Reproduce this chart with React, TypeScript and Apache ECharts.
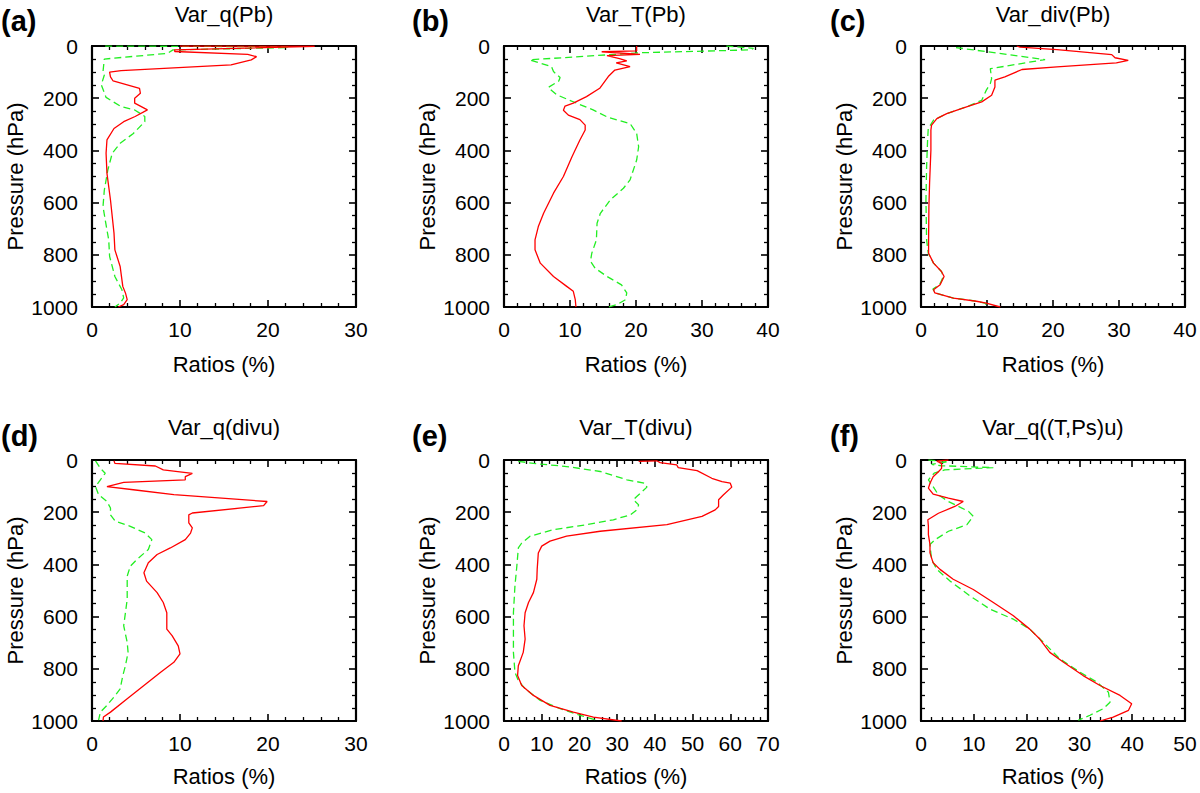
import React, { useEffect, useRef } from "react";
import * as echarts from "echarts";

// Each series: [pressure (hPa), ratio (%)]
const aRed = [[0,10],[1,25.3],[15,9.4],[21,9.4],[32,17.7],[41,18.7],[53,18.1],[72,15.8],[94,3.3],[100,2.0],[118,2.1],[134,2.4],[162,5.4],[181,5.5],[200,4.85],[219,4.85],[245,6.3],[270,4.9],[290,3.6],[316,2.5],[360,1.7],[411,1.6],[488,1.7],[590,2.1],[717,2.5],[781,2.6],[845,3.2],[921,3.5],[946,3.8],[972,4.0],[991,3.6],[1000,3.0]];
const aGreen = [[0,1.5],[3,22.3],[6,22.3],[15,9.2],[28,8.6],[50,1.4],[98,1.25],[111,1.4],[149,1.06],[197,1.6],[232,3.3],[245,4.85],[270,6.0],[290,6.0],[335,4.7],[373,3.2],[411,2.3],[475,1.8],[552,1.4],[615,1.25],[666,1.5],[743,1.9],[806,2.0],[883,2.6],[934,3.4],[965,3.6],[985,3.2],[1000,2.6]];

const bRed = [[0,20.1],[19,20.1],[22,14.8],[32,20.6],[37,15.6],[48,17.5],[57,18.6],[65,17.0],[79,19.1],[92,16.8],[117,15.8],[162,14.5],[194,12.5],[219,10.5],[230,9.25],[246,9.0],[265,9.75],[282,11.5],[303,12.3],[322,12.3],[360,11.5],[424,10.3],[500,9.0],[564,7.5],[641,6.0],[692,5.2],[743,4.7],[781,4.7],[832,5.5],[883,7.5],[921,9.5],[940,10.5],[972,10.8],[1000,10.9]];
const bGreen = [[0,33.7],[9,37.8],[15,37.3],[26,20.5],[53,3.9],[79,7.2],[98,7.5],[121,8.5],[134,8.3],[159,6.7],[187,8.0],[219,11.0],[245,13.5],[274,15.8],[297,19.1],[335,20.1],[386,20.4],[437,20.1],[513,19.1],[545,18.1],[590,16.1],[641,14.6],[679,14.1],[743,14.0],[794,13.3],[825,13.1],[851,13.8],[883,15.6],[915,17.8],[946,18.6],[972,18.4],[991,17.1],[1000,15.8]];

const cRed = [[0,14.5],[4,15.0],[14,20.6],[33,28.9],[45,29.4],[55,31.4],[65,29.6],[80,20.6],[90,15.3],[118,12.7],[131,11.2],[157,11.2],[189,10.7],[214,9.2],[233,6.9],[259,3.9],[278,2.4],[303,1.6],[322,1.5],[399,1.5],[526,1.3],[615,1.2],[743,1.15],[794,1.15],[832,1.9],[864,3.1],[883,3.5],[915,2.9],[934,1.9],[946,2.1],[966,4.9],[978,8.4],[985,9.9],[1000,12.0]];
const cGreen = [[6,5.3],[52,18.8],[87,10.5],[125,10.7],[144,10.5],[169,9.9],[208,9.2],[233,6.9],[259,3.9],[284,1.9],[316,1.1],[360,1.0],[462,0.85],[590,0.75],[743,0.85],[794,1.1],[832,1.9],[864,3.1],[883,3.4],[915,2.8],[931,1.8],[946,2.1],[966,4.9],[976,7.9],[985,9.7],[1000,10.2]];

const dRed = [[3,2.5],[13,2.6],[23,7.2],[38,8.1],[51,11.4],[64,10.6],[76,10.6],[86,3.6],[102,1.7],[114,4.7],[133,9.3],[159,19.9],[175,19.5],[203,11.4],[210,11.0],[241,11.0],[260,11.4],[280,11.2],[305,10.6],[337,8.9],[362,7.4],[394,6.4],[432,5.9],[464,6.2],[508,7.4],[546,8.1],[585,8.5],[648,8.5],[673,9.1],[712,9.8],[743,10.0],[775,9.3],[813,7.8],[864,5.9],[915,4.0],[966,2.1],[985,1.3],[1000,1.25]];
const dGreen = [[3,0.4],[32,0.95],[51,1.5],[76,0.95],[102,0.4],[133,0.75],[159,1.7],[184,2.1],[210,2.1],[235,2.65],[254,4.35],[280,6.05],[305,6.8],[343,6.4],[381,5.1],[407,4.35],[445,4.0],[534,4.0],[585,3.8],[635,3.6],[699,4.0],[737,4.1],[788,3.8],[826,3.5],[877,3.2],[902,2.65],[940,1.7],[966,0.95],[997,0.75]];

const eRed = [[5,35.7],[3,40.5],[10,41.4],[19,45.8],[29,46.2],[41,51.2],[70,55.1],[83,57.8],[89,60.0],[104,60.4],[133,58.2],[152,56.9],[178,56.9],[191,56.0],[216,52.5],[248,43.2],[273,25.5],[292,16.6],[311,12.2],[330,10.0],[356,9.1],[419,8.8],[457,8.7],[508,7.8],[546,6.5],[585,5.6],[635,5.3],[686,5.6],[737,5.1],[788,3.8],[826,3.6],[864,4.7],[902,7.8],[940,12.2],[966,18.4],[985,23.7],[1000,31.2]];
const eGreen = [[5,3.8],[13,7.8],[25,16.6],[44,25.5],[76,32.6],[89,37.4],[104,37.9],[140,35.2],[152,34.3],[172,35.7],[191,35.2],[210,33.5],[229,29.0],[248,21.9],[267,13.1],[292,6.9],[318,4.7],[337,3.8],[407,3.4],[483,2.9],[585,2.5],[737,2.5],[813,2.9],[845,3.8],[877,5.6],[921,9.6],[953,14.9],[978,20.2],[997,24.6]];

const fRed = [[0,5.2],[4,3.0],[13,3.9],[32,3.9],[45,3.3],[64,2.3],[89,1.7],[108,1.4],[131,2.3],[146,5.2],[159,8.0],[178,6.4],[204,3.3],[229,1.3],[254,1.4],[286,1.4],[324,1.7],[356,1.7],[394,2.3],[419,3.6],[457,6.1],[496,9.9],[546,13.7],[597,17.5],[648,20.6],[686,22.5],[737,24.4],[775,27.0],[826,30.7],[864,33.9],[902,37.7],[934,39.9],[959,39.3],[985,36.4],[1000,33.9]];
const fGreen = [[0,1.4],[6,5.2],[17,2.0],[22,3.9],[29,13.7],[38,4.5],[50,2.5],[76,1.4],[102,2.3],[134,3.3],[159,5.2],[197,9.0],[216,9.9],[248,8.7],[273,5.2],[305,2.7],[324,1.7],[343,1.8],[381,2.0],[419,3.0],[464,5.5],[521,9.3],[572,13.1],[610,17.5],[648,20.6],[699,23.2],[762,26.3],[813,30.1],[851,33.3],[890,35.5],[928,35.8],[953,34.5],[978,32.0],[997,29.8]];

const panelTitles = ["Var_q(Pb)", "Var_T(Pb)", "Var_div(Pb)", "Var_q(divu)", "Var_T(divu)", "Var_q((T,Ps)u)"];
const panelLetters = ["(a)", "(b)", "(c)", "(d)", "(e)", "(f)"];
const xMaxes = [30, 40, 40, 30, 70, 50];
const reds = [aRed, bRed, cRed, dRed, eRed, fRed];
const greens = [aGreen, bGreen, cGreen, dGreen, eGreen, fGreen];
const pressureTicks = [0, 200, 400, 600, 800, 1000];
const xAxisName = "Ratios (%)";
const yAxisName = "Pressure (hPa)";

const FONT = '"Liberation Sans", Arial, Helvetica, sans-serif';

const lefts = [92, 504, 921];
const tops = [46, 460];
const W = 264;
const H = 261;

export default function App() {
  const ref = useRef<HTMLDivElement>(null);

  useEffect(() => {
    document.body.style.margin = "0";
    const chart = echarts.init(ref.current!, null, { renderer: "svg" });

    const grid: any[] = [];
    const xAxis: any[] = [];
    const yAxis: any[] = [];
    const series: any[] = [];
    const graphic: any[] = [];

    for (let i = 0; i < 6; i++) {
      const col = i % 3;
      const row = Math.floor(i / 3);
      const left = lefts[col];
      const top = tops[row];
      grid.push({ left, top, width: W, height: H, containLabel: false });

      const axisLine = { show: true, onZero: false, lineStyle: { color: "#000", width: 2.2 } };
      const tick = { show: true, inside: true, length: 7, lineStyle: { color: "#000", width: 1.6 } };
      const label = { show: true, color: "#000", fontSize: 21, fontFamily: FONT };
      const nameStyle = { color: "#000", fontSize: 22, fontFamily: FONT };

      xAxis.push({
        type: "value", gridIndex: i, position: "bottom", min: 0, max: xMaxes[i], interval: 10,
        axisLine, axisTick: tick,
        minorTick: { show: true, splitNumber: 5, length: 4, lineStyle: { color: "#000", width: 1.3 } },
        axisLabel: { ...label, margin: 12 },
        splitLine: { show: false }, minorSplitLine: { show: false },
        name: xAxisName, nameLocation: "middle", nameGap: row === 0 ? 46 : 44,
        nameTextStyle: nameStyle,
      });
      xAxis.push({
        type: "value", gridIndex: i, position: "top", min: 0, max: xMaxes[i], interval: 10,
        axisLine, axisTick: tick,
        minorTick: { show: true, splitNumber: 5, length: 4, lineStyle: { color: "#000", width: 1.3 } },
        axisLabel: { show: false }, splitLine: { show: false },
      });
      yAxis.push({
        type: "value", gridIndex: i, position: "left", min: 0, max: 1000, interval: 200, inverse: true,
        axisLine, axisTick: tick,
        minorTick: { show: true, splitNumber: 4, length: 4, lineStyle: { color: "#000", width: 1.3 } },
        axisLabel: { ...label, margin: 14, formatter: (v: number) => (pressureTicks.includes(v) ? String(v) : "") },
        splitLine: { show: false },
        name: yAxisName, nameLocation: "middle", nameGap: 66, nameRotate: 90,
        nameTextStyle: nameStyle,
      });
      yAxis.push({
        type: "value", gridIndex: i, position: "right", min: 0, max: 1000, interval: 200, inverse: true,
        axisLine, axisTick: tick,
        minorTick: { show: true, splitNumber: 4, length: 4, lineStyle: { color: "#000", width: 1.3 } },
        axisLabel: { show: false }, splitLine: { show: false },
      });

      series.push({
        type: "line", xAxisIndex: 2 * i, yAxisIndex: 2 * i, showSymbol: false, symbol: "none",
        data: greens[i].map(([p, v]) => [v, p]), clip: true, z: 2,
        lineStyle: { color: "#22ee22", width: 1.3, type: [7, 4] },
      });
      series.push({
        type: "line", xAxisIndex: 2 * i, yAxisIndex: 2 * i, showSymbol: false, symbol: "none",
        data: reds[i].map(([p, v]) => [v, p]), clip: true, z: 3,
        lineStyle: { color: "#ff0000", width: 1.3 },
      });

      graphic.push({
        type: "text", x: left + W / 2, y: row === 0 ? 14 : 427,
        style: { text: panelTitles[i], fill: "#000", font: `22px ${FONT}`, textAlign: "center", textVerticalAlign: "middle", align: "center", verticalAlign: "middle" },
      });
      graphic.push({
        type: "text", x: [1, 412, 830][col], y: row === 0 ? 21 : 436,
        style: { text: panelLetters[i], fill: "#000", font: `bold 29px ${FONT}`, textAlign: "left", textVerticalAlign: "middle", align: "left", verticalAlign: "middle" },
      });
    }

    chart.setOption({
      animation: false,
      backgroundColor: "#fff",
      grid, xAxis, yAxis, series, graphic,
    });
    return () => chart.dispose();
  }, []);

  return <div ref={ref} style={{ width: 1200, height: 793 }} />;
}
